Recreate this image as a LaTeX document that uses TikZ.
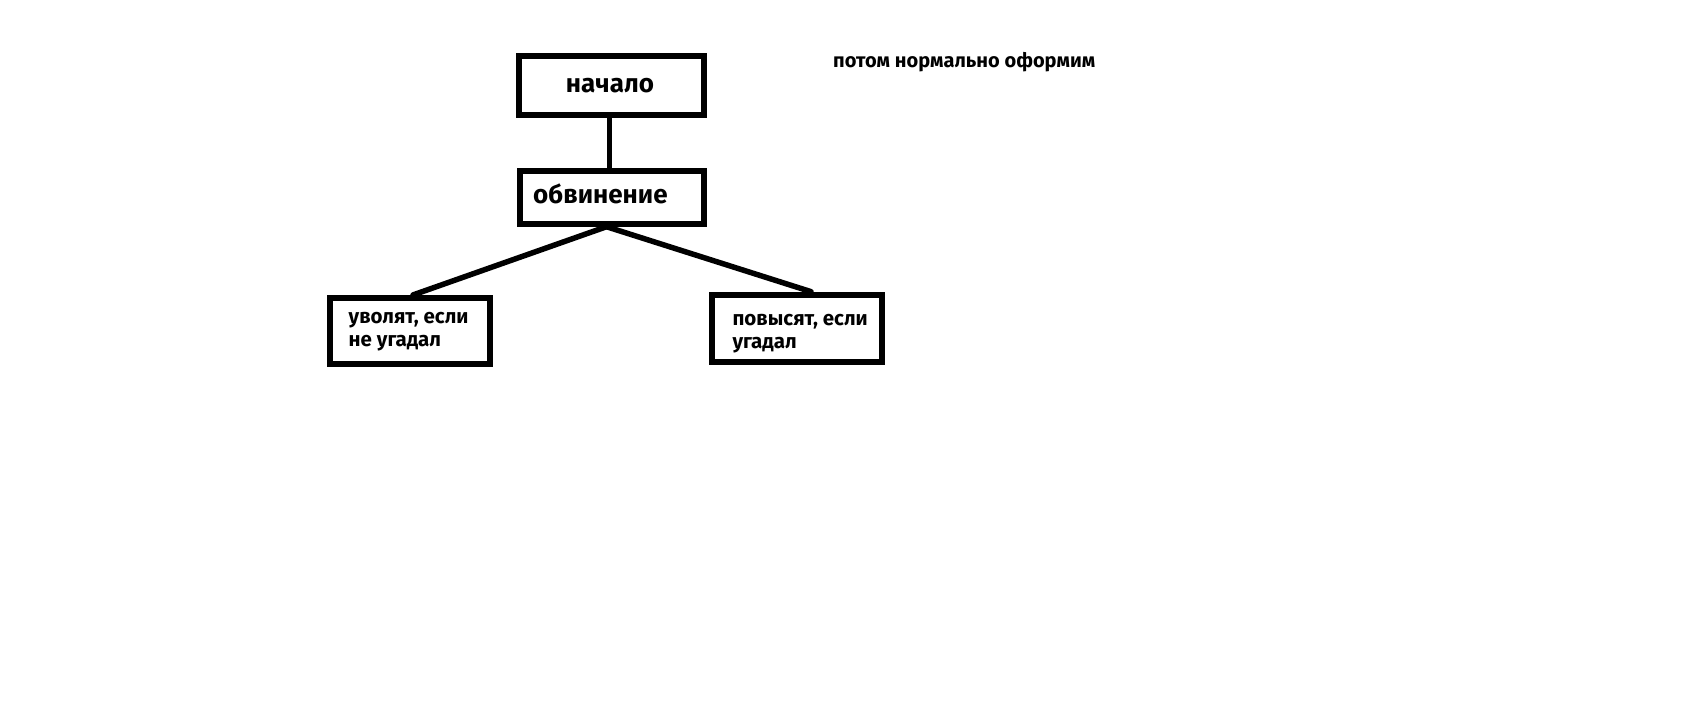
\documentclass[tikz,border=0pt]{standalone}
\usepackage{fontspec}
\setmainfont{Fira Sans}
\begin{document}
\begin{tikzpicture}[x=1pt,y=-1pt,
  box/.style={draw=black, line width=6pt, rectangle, inner sep=0pt},
  conn/.style={draw=black, line width=5.5pt, line cap=round},
  bigtext/.style={inner sep=0pt, font=\bfseries\fontsize{26}{30}\selectfont},
  smalltext/.style={inner sep=0pt, align=left, font=\bfseries\fontsize{20.5}{23.7}\selectfont}]
  % canvas
  \fill[white] (0,0) rectangle (1681,704);
  \path[use as bounding box] (0,0) rectangle (1681,704);

  % boxes
  \node[box, minimum width=185.3pt, minimum height=59pt] (nachalo) at (611.7,85.8) {};
  \node[box, minimum width=184pt, minimum height=52.4pt] (obv) at (611.7,197.5) {};
  \node[box, minimum width=159.7pt, minimum height=65.7pt] (fire) at (410.2,330.8) {};
  \node[box, minimum width=170pt, minimum height=67.3pt] (promo) at (797,328.3) {};

  % labels (multi-line nodes sit on the baseline of their last line)
  \node[bigtext, anchor=base] (tnachalo) at (610,92) {начало};
  \node[bigtext, anchor=base west] (tobv) at (533,203.5) {обвинение};
  \node[smalltext, anchor=base west] (tfire) at (348.5,346.7) {уволят, если\\не угадал};
  \node[smalltext, anchor=base west] (tpromo) at (732.3,348.7) {повысят, если\\угадал};
  \node[smalltext, anchor=base west, font=\bfseries\fontsize{20}{24}\selectfont] (note) at (833,67) {потом нормально оформим};

  % connectors
  \draw[conn] ([xshift=-2.2pt,yshift=2.3pt]nachalo.south) -- ([xshift=-2.2pt]obv.north);
  \draw[conn] ([xshift=-5.2pt]obv.south) -- ([xshift=2.8pt]fire.north);
  \draw[conn] ([xshift=-5.2pt]obv.south) -- ([xshift=14pt]promo.north);
\end{tikzpicture}
\end{document}
